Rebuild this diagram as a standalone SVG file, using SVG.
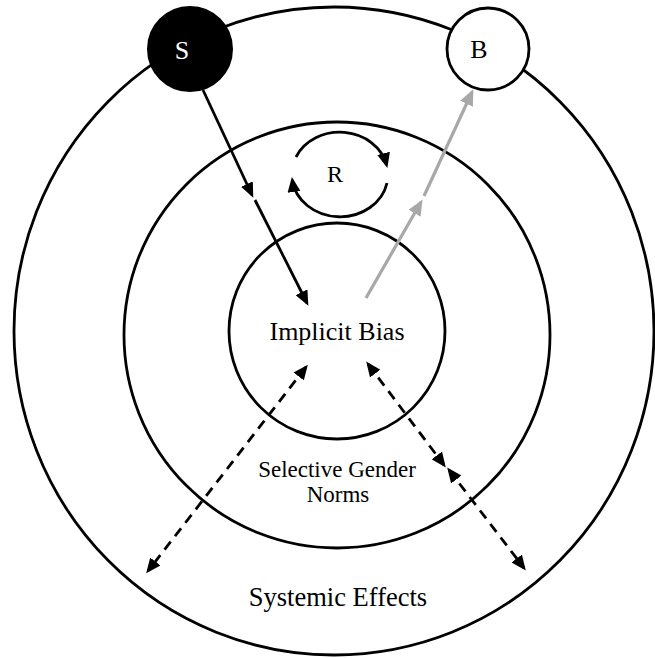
<svg xmlns="http://www.w3.org/2000/svg" width="655" height="658" viewBox="0 0 655 658">
<style>
.ring{fill:none;stroke:#000;stroke-width:2.8}
.lbl{font-family:"Liberation Serif","Times New Roman",serif;fill:#000;text-anchor:middle}
.ln{fill:none;stroke:#000;stroke-width:2.8}
.gray{fill:none;stroke:#a8a8a8;stroke-width:3.2}
.dash{fill:none;stroke:#000;stroke-width:2.8;stroke-dasharray:10 7}
</style>
<defs>
<marker id="ah" markerUnits="userSpaceOnUse" markerWidth="15" markerHeight="13" viewBox="0 0 15 13" refX="12" refY="6.5" orient="auto-start-reverse"><path d="M0,0 L15,6.5 L0,13 z" fill="#000"/></marker>
<marker id="ahg" markerUnits="userSpaceOnUse" markerWidth="16" markerHeight="14" viewBox="0 0 16 14" refX="13" refY="7" orient="auto"><path d="M0,0 L16,7 L0,14 z" fill="#a8a8a8"/></marker>
</defs>
<rect width="655" height="658" fill="#fff"/>
<g id="systemic-effects">
<ellipse class="ring" cx="334" cy="331" rx="320" ry="324"/>
<text class="lbl" x="338" y="606" font-size="26.5">Systemic Effects</text>
</g>
<g id="selective-gender-norms">
<circle class="ring" cx="337" cy="335" r="213"/>
<text class="lbl" x="337" y="477" font-size="23">Selective Gender</text>
<text class="lbl" x="338" y="502" font-size="23">Norms</text>
</g>
<g id="implicit-bias">
<circle class="ring" cx="337" cy="331" r="108" fill="#fff"/>
<text class="lbl" x="337" y="340" font-size="26">Implicit Bias</text>
</g>
<g id="S">
<circle cx="190" cy="49" r="42" fill="#000" stroke="#000" stroke-width="2"/>
<text class="lbl" x="182" y="59" font-size="26" style="fill:#fff">S</text>
</g>
<g id="B">
<circle cx="488" cy="49" r="41" fill="#fff" stroke="#000" stroke-width="2.8"/>
<text class="lbl" x="479" y="58" font-size="26">B</text>
</g>
<g id="R">
<text class="lbl" x="335" y="182" font-size="24">R</text>
</g>
<g id="connectors">
<path class="ln" d="M296,157 A48,42 0 0 1 386.6,165" marker-end="url(#ah)"/>
<path class="ln" d="M387,183 A48,42 0 0 1 292.3,180" marker-end="url(#ah)"/>
<path class="ln" d="M203,90 L252,195" marker-end="url(#ah)"/>
<path class="ln" d="M255,200 L307,303" marker-end="url(#ah)"/>
<path class="gray" d="M366,298 L421,202" marker-end="url(#ahg)"/>
<path class="gray" d="M424,196 L472,92" marker-end="url(#ahg)"/>
<path class="dash" d="M306,367 L148,571" marker-start="url(#ah)" marker-end="url(#ah)"/>
<path class="dash" d="M368,364 L444,465" marker-start="url(#ah)" marker-end="url(#ah)"/>
<path class="dash" d="M449,470 L524,568" marker-start="url(#ah)" marker-end="url(#ah)"/>
</g>
</svg>
